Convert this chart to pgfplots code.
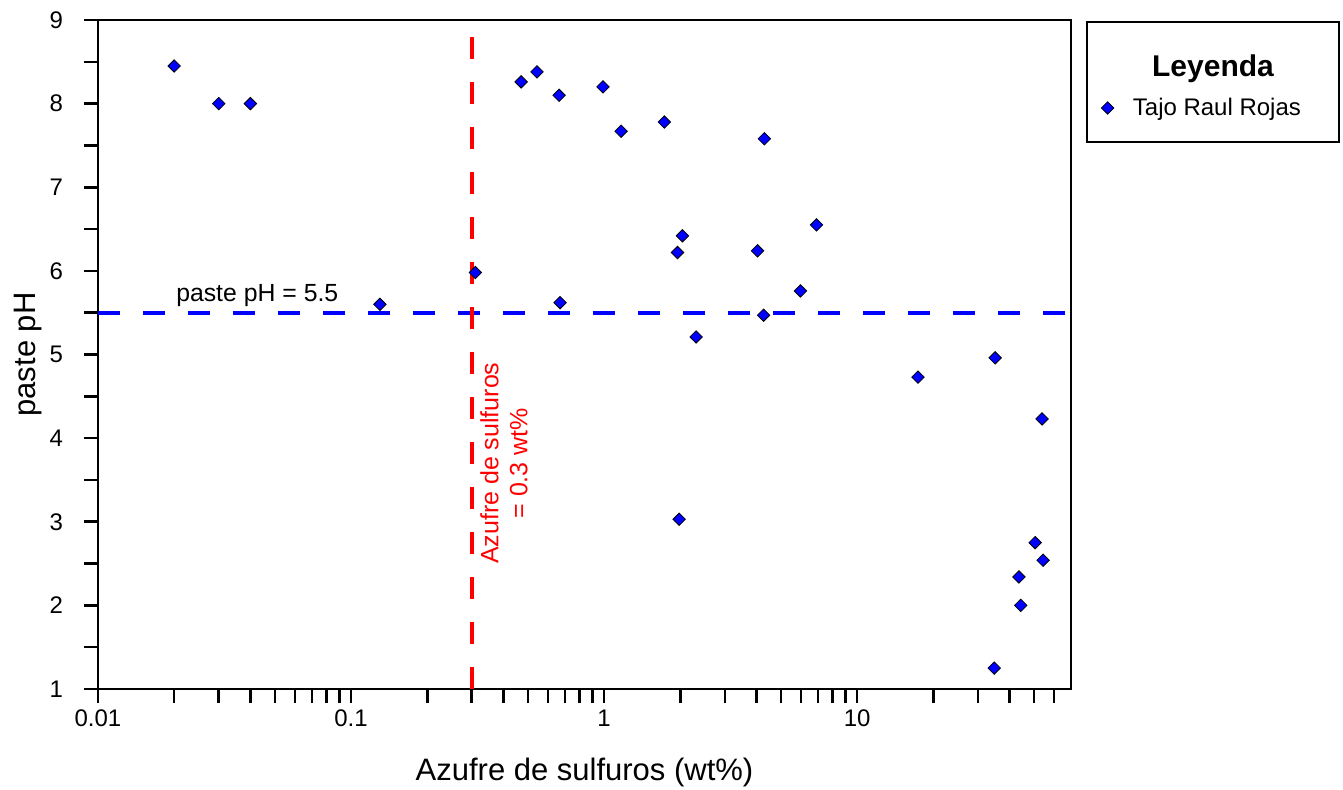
\documentclass[border=0pt]{standalone}
\usepackage{pgfplots}
\pgfplotsset{compat=1.18}
\usepackage{fontspec}
\setmainfont{Liberation Sans}
\pgfplotsset{mymarkleg/.style={legend image code/.code={\draw[mark repeat=2,mark phase=2,##1] plot coordinates {(0pt,0pt)(5pt,0pt)(10pt,0pt)};}}}
\pgfplotstableread{
x y
0.02 8.45
0.03 8.0
0.04 8.0
0.13 5.6
0.31 5.98
0.47 8.26
0.543 8.38
0.664 8.1
0.67 5.62
0.99 8.2
1.167 7.67
1.73 7.78
1.95 6.22
2.04 6.42
1.98 3.03
2.31 5.21
4.04 6.24
4.30 7.58
4.27 5.47
5.97 5.76
6.91 6.55
17.4 4.73
35.1 4.96
53.8 4.23
50.5 2.75
54.3 2.54
43.6 2.34
44.3 2.0
34.8 1.25
}\datatable
\begin{document}
\begin{tikzpicture}
\begin{axis}[
  at={(0,0)}, anchor=south west, scale only axis,
  width=486.5pt, height=334.5pt,
  xmode=log, log basis x=10,
  xmin=0.01, xmax=70, ymin=1, ymax=9,
  axis line style={line width=1.3pt},
  every tick/.style={black, line width=1.3pt},
  tick align=outside, tick pos=left,
  major tick length=7pt, minor tick length=7pt,
  xtick={0.01,0.1,1,10}, xticklabels={0.01,0.1,1,10},
  minor xtick={0.02,0.03,0.04,0.05,0.06,0.07,0.08,0.09,0.2,0.3,0.4,0.5,0.6,0.7,0.8,0.9,2,3,4,5,6,7,8,9,20,30,40,50,60},
  ytick={1,2,3,4,5,6,7,8,9},
  minor ytick={1.5,2.5,3.5,4.5,5.5,6.5,7.5,8.5},
  /pgf/number format/assume math mode=true,
  tick label style={font=\fontsize{12}{14}\selectfont},
  yticklabel style={xshift=-7pt},
  xlabel={Azufre de sulfuros (wt\%)},
  ylabel={paste pH},
  label style={font=\fontsize{15.5}{18}\selectfont},
  xlabel style={at={([yshift=-41.5pt]axis description cs:0.5,0)}, anchor=center},
  ylabel style={at={([xshift=-35pt]axis description cs:0,0.5)}, anchor=center},
  clip=false,
  legend style={at={(axis description cs:1.0165,0.8685)}, anchor=west, draw=none, fill=none,
    font=\fontsize{12}{14}\selectfont, inner xsep=7pt, column sep=7.5pt},
]
\addplot[blue, line width=1.9pt, dash pattern=on 11pt off 11.5pt, forget plot] coordinates {(0.01,5.5) (70,5.5)};
\addplot[red, line width=1.8pt, dash pattern=on 11pt off 11.5pt, forget plot] coordinates {(0.3,1) (0.3,9)};
\addplot[only marks, mark=square*, mark size=2.2pt,
  mark options={rotate=45, fill=blue, draw=black, line width=0.4pt}, mymarkleg
] table[x=x,y=y] {\datatable};
\addlegendentry{Tajo Raul Rojas}
\node[font=\fontsize{12.4}{14}\selectfont] at (axis cs:0.0426,5.70) {paste pH = 5.5};
\node[red, rotate=90, align=center, font=\fontsize{12.5}{14.5}\selectfont] at (axis cs:0.402,3.70) {Azufre de sulfuros\\= 0.3 wt\%};
\end{axis}
\draw[line width=1.2pt] (494.5pt,333.5pt) rectangle (620.5pt,273.5pt);
\node[font=\bfseries\fontsize{15}{18}\selectfont] at (557.5pt,310pt) {Leyenda};
\pgfresetboundingbox
\path[use as bounding box] (-49pt,-50pt) rectangle (622.5pt,344.5pt);
\end{tikzpicture}
\end{document}
